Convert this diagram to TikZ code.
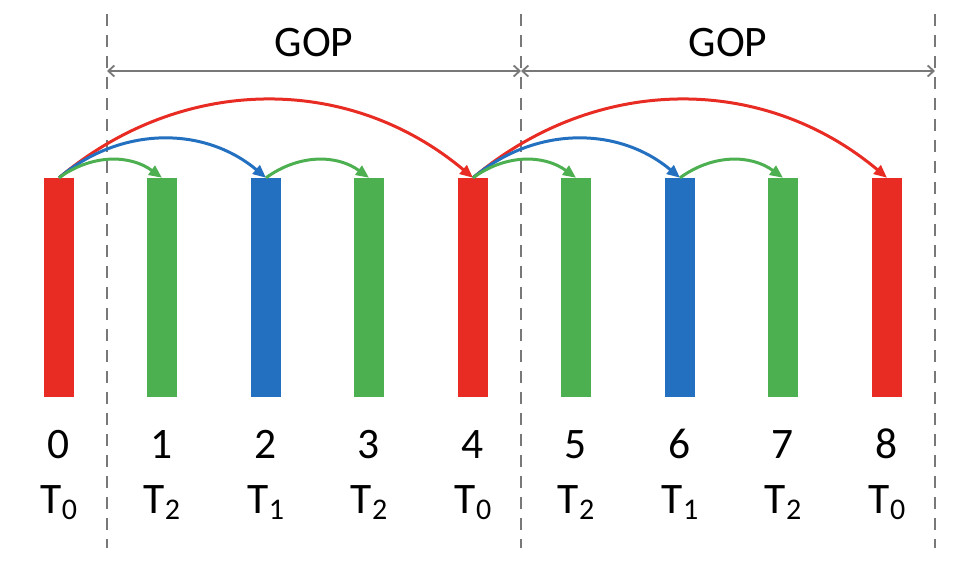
\documentclass[tikz,border=0pt]{standalone}
\usepackage{fontspec}
\setmainfont{Carlito}
\usetikzlibrary{arrows.meta}
\definecolor{fred}{RGB}{232,44,36}
\definecolor{fgreen}{RGB}{76,175,80}
\definecolor{fblue}{RGB}{35,112,192}
\definecolor{fgray}{RGB}{120,120,120}
\newcommand{\Tlab}[1]{T\raisebox{-6pt}{\fontsize{30}{30}\selectfont #1}}
\begin{document}
\begin{tikzpicture}[x=1pt,y=1pt,
  frame/.style={draw=none,fill=#1,minimum width=30pt,minimum height=219pt,inner sep=0pt},
  lab/.style={font=\fontsize{43.5}{43.5}\selectfont,anchor=base,inner sep=0pt},
  divider/.style={draw=fgray,line width=1.8pt,dash pattern=on 12pt off 9pt},
  gop/.style={draw=fgray,line width=1.8pt,{Straight Barb[length=6pt,width=11pt]}-{Straight Barb[length=6pt,width=11pt]}},
  ref/.style={draw=#1,line width=3pt,-{Triangle[length=13pt,width=11pt]}}
]
\useasboundingbox (0,0) rectangle (964,560);
% dividers
\foreach \n/\x in {d0/107,d1/521,d2/935}{
  \coordinate (\n t) at (\x,546);
  \coordinate (\n b) at (\x,12);
  \coordinate (\n g) at (\x,489);
  \draw[divider] (\n t) -- (\n b);
}
% GOP spans
\draw[gop] (d0g) -- (d1g);
\draw[gop] (d1g) -- (d2g);
\node[lab] (gop1) at (314,503) {GOP};
\node[lab] (gop2) at (728,503) {GOP};
% frames
\foreach \i/\x/\c/\t in {0/59/fred/0,1/162/fgreen/2,2/266/fblue/1,3/369/fgreen/2,4/473/fred/0,5/576/fgreen/2,6/680/fblue/1,7/783/fgreen/2,8/887/fred/0}{
  \node[frame=\c] (b\i) at (\x,272.5) {};
  \node[lab] (n\i) at (\x,102) {\i};
  \node[lab] (t\i) at (\x,47) {\Tlab{\t}};
}
% references
\draw[ref=fred] (b0.north) to[bend left=40] (b4.north);
\draw[ref=fblue] (b0.north) to[bend left=40] (b2.north);
\draw[ref=fgreen] (b0.north) to[bend left=36] (b1.north);
\draw[ref=fgreen] (b2.north) to[bend left=36] (b3.north);
\draw[ref=fred] (b4.north) to[bend left=40] (b8.north);
\draw[ref=fblue] (b4.north) to[bend left=40] (b6.north);
\draw[ref=fgreen] (b4.north) to[bend left=36] (b5.north);
\draw[ref=fgreen] (b6.north) to[bend left=36] (b7.north);
\end{tikzpicture}
\end{document}
